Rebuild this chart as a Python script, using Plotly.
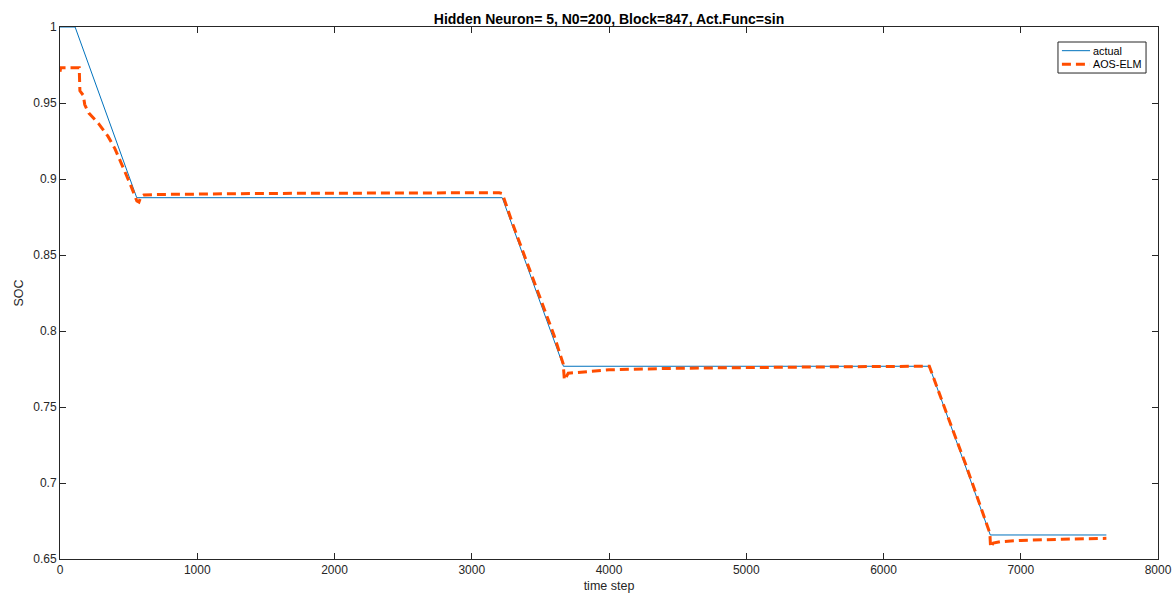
import plotly.graph_objects as go

# Actual SOC (breakpoints)
actual_t = [0, 110, 559, 3222, 3668, 6334, 6778, 7624]
actual_soc = [1.0, 1.0, 0.8877, 0.8877, 0.7768, 0.7768, 0.6658, 0.6658]

# AOS-ELM estimate
elm_t = [0, 5, 140, 145, 170, 180, 195, 210, 280, 350, 400, 450, 510, 560, 575,
         590, 610, 700, 1500, 3200, 3222, 3300, 3400, 3500, 3600, 3666, 3675,
         3703, 3800, 3936, 4000, 4500, 5000, 5700, 6334, 6400, 6500, 6600, 6700,
         6775, 6780, 6800, 6851, 7000, 7300, 7624]
elm_soc = [0.9705, 0.9732, 0.9732, 0.958, 0.955, 0.949, 0.946, 0.9434, 0.9366, 0.928,
           0.920, 0.910, 0.897, 0.8855, 0.8848, 0.8885, 0.8895, 0.8898, 0.8905, 0.891,
           0.8905, 0.870, 0.846, 0.822, 0.797, 0.7785, 0.7678,
           0.7722, 0.7730, 0.7737, 0.7745, 0.7755, 0.776, 0.7765, 0.7768, 0.760, 0.736,
           0.712, 0.687, 0.667, 0.6577, 0.6605, 0.6614, 0.6622, 0.6630, 0.6636]

x_ticks = [0, 1000, 2000, 3000, 4000, 5000, 6000, 7000, 8000]
y_ticks = [0.65, 0.7, 0.75, 0.8, 0.85, 0.9, 0.95, 1.0]
y_ticktext = ["0.65", "0.7", "0.75", "0.8", "0.85", "0.9", "0.95", "1"]

series_names = ["actual", "AOS-ELM"]
series_colors = ["#0072BD", "#FF4D00"]
series_widths = [1, 3]
series_dash = ["solid", "9px,5px"]

fig = go.Figure()
fig.add_trace(go.Scatter(x=actual_t, y=actual_soc, mode="lines", name=series_names[0],
                         line=dict(color=series_colors[0], width=series_widths[0])))
fig.add_trace(go.Scatter(x=elm_t, y=elm_soc, mode="lines", name=series_names[1],
                         line=dict(color=series_colors[1], width=series_widths[1],
                                   dash=series_dash[1])))

axis_common = dict(showline=True, linecolor="#262626", linewidth=1, mirror="ticks",
                   ticks="inside", ticklen=6, tickcolor="#262626", showgrid=False,
                   zeroline=False, automargin=False,
                   tickfont=dict(size=12, color="#262626"))

# MATLAB-style compact legend (box, sample lines, labels) in paper coordinates
shapes = [dict(type="rect", xref="paper", yref="paper", x0=0.9089, x1=0.9891,
               y0=0.9135, y1=0.9718, line=dict(color="#262626", width=1),
               fillcolor="white", layer="above")]
annotations = []
row_y = [0.9555, 0.9299]
for name, col, w, d, yy in zip(series_names, series_colors, series_widths, series_dash, row_y):
    shapes.append(dict(type="line", xref="paper", yref="paper", x0=0.9125, x1=0.9381,
                       y0=yy, y1=yy, line=dict(color=col, width=w, dash=d), layer="above"))
    annotations.append(dict(text=name, xref="paper", yref="paper", x=0.9388, y=yy,
                            xanchor="left", yanchor="middle", showarrow=False,
                            font=dict(size=10.8, color="black")))

fig.update_layout(
    width=1176, height=599,
    margin=dict(l=60, r=18, t=27, b=40, autoexpand=False),
    paper_bgcolor="white", plot_bgcolor="white",
    font=dict(family="Liberation Sans, Arial, sans-serif", color="#262626"),
    title=dict(text="<b>Hidden Neuron= 5, N0=200, Block=847, Act.Func=sin</b>",
               x=0.5, xref="paper", xanchor="center", y=1, yref="paper", yanchor="bottom",
               pad=dict(b=3), font=dict(size=14, color="black")),
    xaxis=dict(range=[0, 8000], tickvals=x_ticks,
               title=dict(text="time step", font=dict(size=12.5), standoff=4), **axis_common),
    yaxis=dict(range=[0.65, 1.0], tickvals=y_ticks, ticktext=y_ticktext,
               title=dict(text="SOC", font=dict(size=12.5), standoff=6), **axis_common),
    showlegend=False,
    shapes=shapes,
    annotations=annotations,
)

fig.write_html("out.html")
